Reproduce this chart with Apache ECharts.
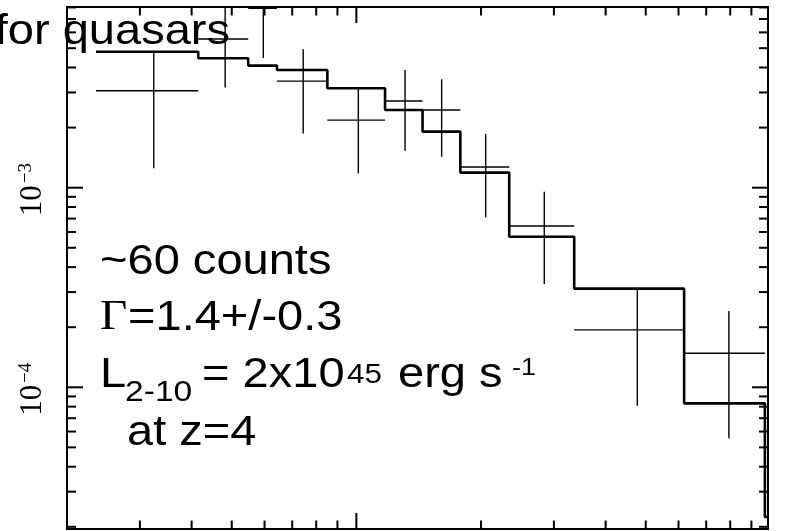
<!DOCTYPE html>
<html><head><meta charset="utf-8">
<script src="https://cdn.jsdelivr.net/npm/echarts/dist/echarts.min.js"></script>
<style>html,body{margin:0;padding:0;background:#fff}#c{width:791px;height:531px}</style>
</head><body><div id="c"></div>
<script>
// Energy bin edges (keV) and model (folded) values per bin
const binEdges = [0.235, 0.415, 0.548, 0.643, 0.851, 1.173, 1.445, 1.783, 2.340, 3.359, 6.19, 9.70, 9.87];
const modelValues = [4.80e-3, 4.45e-3, 4.09e-3, 3.89e-3, 3.15e-3, 2.45e-3, 1.91e-3, 1.19e-3, 5.68e-4, 3.12e-4, 8.31e-5, 2.24e-5];
// Data points (crosses): centre energy, value, error range
const dataCenter = [0.324, 0.482, 0.596, 0.744, 1.011, 1.311, 1.607, 2.053, 2.844, 4.771, 7.94];
const dataValues = [3.06e-3, 5.56e-3, 7.92e-3, 3.42e-3, 2.18e-3, 2.72e-3, 2.45e-3, 1.27e-3, 6.43e-4, 1.94e-4, 1.48e-4];
const dataErrLow = [1.25e-3, 3.18e-3, 4.47e-3, 1.87e-3, 1.18e-3, 1.53e-3, 1.43e-3, 7.1e-4, 3.29e-4, 8.09e-5, 5.55e-5];
const dataErrHigh = [4.80e-3, 9.5e-3, 1.2e-2, 4.94e-3, 3.18e-3, 3.89e-3, 3.49e-3, 1.86e-3, 9.55e-4, 3.13e-4, 2.41e-4];
// Axis ticks
const xTicksMinor = [0.3, 0.4, 0.5, 0.6, 0.7, 0.8, 0.9, 2, 3, 4, 5, 6, 7, 8, 9];
const xTicksMajor = [1];
const yTicksMinor = [2e-5, 3e-5, 4e-5, 5e-5, 6e-5, 7e-5, 8e-5, 9e-5, 2e-4, 3e-4, 4e-4, 5e-4, 6e-4, 7e-4, 8e-4, 9e-4, 2e-3, 3e-3, 4e-3, 5e-3, 6e-3, 7e-3, 8e-3];
const yTicksMajor = [1e-4, 1e-3];
const yLabelValues = [1e-3, 1e-4];
const yLabelExps = ['\u22123', '\u22124'];

const xRange = [0.2, 9.87];
const yRange = [1.95e-5, 8.04e-3];

const modelData = binEdges.slice(0, modelValues.length).map((e, i) => [e, modelValues[i]]);
modelData.push([binEdges[modelValues.length], modelValues[modelValues.length - 1]]);

const crossData = dataCenter.map((c, i) => [c, dataValues[i], binEdges[i], binEdges[i + 1], dataErrLow[i], dataErrHigh[i]]);

const tickData = [];
xTicksMinor.forEach(v => tickData.push([v, 1e-3, 0]));
xTicksMajor.forEach(v => tickData.push([v, 1e-3, 1]));
yTicksMinor.forEach(v => tickData.push([1, v, 2]));
yTicksMajor.forEach(v => tickData.push([1, v, 3]));

const labelData = yLabelValues.map(v => [1, v]);

const chart = echarts.init(document.getElementById('c'), null, {renderer: 'canvas'});

const F = 42, SX = 1.12;
const sans = 'Liberation Sans, Arial, Helvetica, sans-serif';
const serif = 'Liberation Serif, Times New Roman, serif';
function txt(t, x, baseline, size, family, align) {
  return {
    type: 'text', x: x, y: baseline - 0.35 * size, scaleX: SX, z: 50,
    style: {
      text: t, x: 0, y: 0, fill: '#000',
      font: size + 'px ' + family,
      align: align || 'left', textAlign: align || 'left',
      verticalAlign: 'middle', textVerticalAlign: 'middle'
    }
  };
}

const option = {
  backgroundColor: '#fff',
  animation: false,
  grid: {left: 67, right: 23, top: 7, bottom: 2, show: true, borderColor: '#000', borderWidth: 2, backgroundColor: 'transparent'},
  xAxis: {type: 'log', logBase: 10, min: xRange[0], max: xRange[1],
    axisLine: {show: false}, axisTick: {show: false}, axisLabel: {show: false}, splitLine: {show: false}},
  yAxis: {type: 'log', logBase: 10, min: yRange[0], max: yRange[1],
    axisLine: {show: false}, axisTick: {show: false}, axisLabel: {show: false}, splitLine: {show: false}},
  graphic: [
    txt('for quasars', 230, 46.7, F, sans, 'right'),
    txt('~60 counts', 100, 277, F, sans),
    txt('\u0393', 100, 333, F, serif),
    txt('=1.4+/-0.3', 128, 333, F, sans),
    txt('L', 100, 390, F, sans),
    txt('2-10', 125, 403, 30, sans),
    txt('= 2x10', 202, 390, F, sans),
    txt('45', 347, 385, 28, sans),
    txt('erg s', 398, 390, F, sans),
    txt('-1', 512, 377, 24, sans),
    txt('at z=4', 127, 448, F, sans)
  ],
  series: [
    {
      type: 'line', step: 'end', data: modelData, showSymbol: false, symbol: 'none',
      lineStyle: {color: '#000', width: 2.6}, z: 5, silent: true
    },
    {
      type: 'custom', data: crossData, z: 6, silent: true,
      encode: {x: 0, y: 1},
      renderItem: function (params, api) {
        const cs = params.coordSys;
        const v = api.value(1);
        const pl = api.coord([api.value(2), v]);
        const ph = api.coord([api.value(3), v]);
        const pc = api.coord([api.value(0), v]);
        const pe1 = api.coord([api.value(0), api.value(4)]);
        const pe2 = api.coord([api.value(0), api.value(5)]);
        const clampY = y => Math.max(cs.y, Math.min(cs.y + cs.height, y));
        const st = {stroke: '#000', lineWidth: 1.4};
        return {type: 'group', children: [
          {type: 'line', shape: {x1: pl[0], y1: pc[1], x2: ph[0], y2: pc[1]}, style: st},
          {type: 'line', shape: {x1: pc[0], y1: clampY(pe1[1]), x2: pc[0], y2: clampY(pe2[1])}, style: st}
        ]};
      }
    },
    {
      type: 'custom', data: tickData, z: 7, silent: true,
      encode: {x: 0, y: 1},
      renderItem: function (params, api) {
        const cs = params.coordSys;
        const kind = api.value(2);
        const p = api.coord([api.value(0), api.value(1)]);
        const st = {stroke: '#000', lineWidth: 2};
        if (kind <= 1) {
          const L = kind === 1 ? 16 : 8.5;
          const b = cs.y + cs.height, t = cs.y;
          return {type: 'group', children: [
            {type: 'line', shape: {x1: p[0], y1: b, x2: p[0], y2: b - L}, style: st},
            {type: 'line', shape: {x1: p[0], y1: t, x2: p[0], y2: t + L}, style: st}
          ]};
        } else {
          const L = kind === 3 ? 16 : 9;
          const l = cs.x, r = cs.x + cs.width;
          return {type: 'group', children: [
            {type: 'line', shape: {x1: l, y1: p[1], x2: l + L, y2: p[1]}, style: st},
            {type: 'line', shape: {x1: r, y1: p[1], x2: r - L, y2: p[1]}, style: st}
          ]};
        }
      }
    },
    {
      type: 'custom', data: labelData, z: 8, silent: true,
      encode: {x: 0, y: 1},
      clip: false,
      renderItem: function (params, api) {
        const p = api.coord([api.value(0), api.value(1)]);
        const exp = yLabelExps[params.dataIndex];
        return {type: 'group', children: [
          {type: 'text', x: 32.5, y: p[1] + 13, rotation: Math.PI / 2,
            style: {text: '10', x: 0, y: 0, fill: '#000', font: '31px ' + serif,
              align: 'center', textAlign: 'center', verticalAlign: 'middle', textVerticalAlign: 'middle'}},
          {type: 'text', x: 26, y: p[1] - 14.5, rotation: Math.PI / 2,
            style: {text: exp, x: 0, y: 0, fill: '#000', font: '19px ' + serif,
              align: 'center', textAlign: 'center', verticalAlign: 'middle', textVerticalAlign: 'middle'}}
        ]};
      }
    }
  ]
};
chart.setOption(option);
</script>
</body></html>
